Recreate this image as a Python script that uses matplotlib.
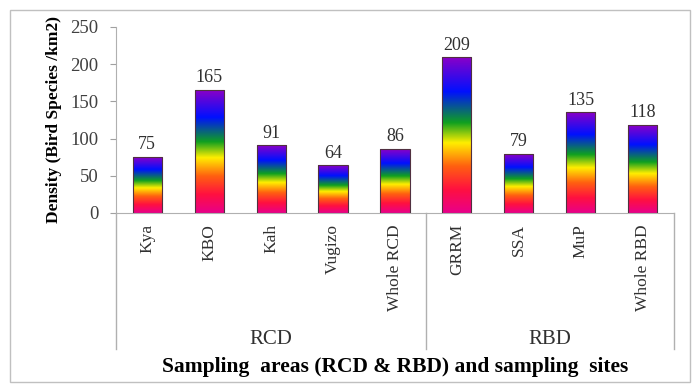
import numpy as np
import matplotlib
matplotlib.use('Agg')
import matplotlib.pyplot as plt
from matplotlib.colors import LinearSegmentedColormap
from matplotlib.patches import Rectangle

# data
sites = ['Kya', 'KBO', 'Kah', 'Vugizo', 'Whole RCD', 'GRRM', 'SSA', 'MuP', 'Whole RBD']
density = [75, 165, 91, 64, 86, 209, 79, 135, 118]
groups = ['RCD', 'RBD']
group_sizes = [5, 4]

serif = ['Liberation Serif', 'DejaVu Serif']
plt.rcParams['font.family'] = serif

rainbow = LinearSegmentedColormap.from_list('rb', [
    (0.0, '#e8008a'), (0.15, '#ff1040'), (0.3, '#ff6010'), (0.45, '#ffee00'),
    (0.58, '#10a020'), (0.78, '#0010ff'), (1.0, '#8a00c8')])

fig = plt.figure(figsize=(6.96, 3.9), dpi=100)
ax = fig.add_axes([0.167, 0.454, 0.801, 0.477])

x = np.arange(len(sites))
width = 0.47
bars = ax.bar(x, density, width, facecolor='none', edgecolor='#503040', linewidth=0.8, zorder=3)
grad = np.linspace(0, 1, 256).reshape(-1, 1)
for b in bars:
    ax.imshow(grad, cmap=rainbow, origin='lower', aspect='auto', zorder=2,
              extent=[b.get_x(), b.get_x() + b.get_width(), 0, b.get_height()])
    ax.text(b.get_x() + b.get_width() / 2, b.get_height() + 5, str(int(b.get_height())),
            ha='center', va='bottom', fontsize=13, color='#303030', family=serif)

ax.set_xlim(-0.5, len(sites) - 0.5)
ax.set_ylim(0, 250)
ax.set_yticks(range(0, 251, 50))
ax.tick_params(axis='y', labelsize=13.5, colors='#404040', length=4, color='#a0a0a0', pad=9)
ax.set_xticks(x)
ax.set_xticklabels(sites, rotation=90, fontsize=12.5, color='#303030', family=serif)
ax.tick_params(axis='x', length=0, pad=8)
for s in ['top', 'right']:
    ax.spines[s].set_visible(False)
ax.spines['left'].set_color('#b0b0b0')
ax.spines['bottom'].set_color('#b0b0b0')
ax.set_ylabel('Density (Bird Species /km2)', fontsize=12.5, fontweight='bold', labelpad=6,
              family=serif)

# group separators and labels under the axis
trans = ax.get_xaxis_transform()
edges = np.concatenate([[0], np.cumsum(group_sizes)]) - 0.5
for e in edges:
    ax.plot([e, e], [0, -0.73], transform=trans, color='#b0b0b0', lw=1, clip_on=False)
for g, lo, hi in zip(groups, edges[:-1], edges[1:]):
    ax.text((lo + hi) / 2, -0.68, g, transform=trans, ha='center', va='center',
            fontsize=15, color='#303030', family=serif)

fig.text(0.567, 0.058, 'Sampling  areas (RCD & RBD) and sampling  sites', ha='center',
         va='center', fontsize=15.5, fontweight='bold', family=serif)

fig.patches.append(Rectangle((0.014, 0.02), 0.977, 0.955, transform=fig.transFigure,
                             fill=False, edgecolor='#c0c0c0', lw=1))

fig.savefig('out.png', dpi=100)
